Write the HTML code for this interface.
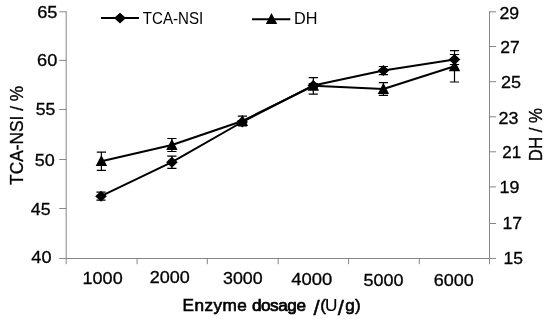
<!DOCTYPE html>
<html><head><meta charset="utf-8"><title>chart</title>
<style>html,body{margin:0;padding:0;background:#fff;overflow:hidden}svg{display:block}text{font-family:"Liberation Sans",Arial,sans-serif;fill:#000}</style>
</head><body>
<svg width="550" height="320" viewBox="0 0 550 320">
<rect width="550" height="320" fill="#fff"/>
<g stroke="#868686" fill="none">
<line x1="66.2" y1="11.3" x2="66.2" y2="264.2" stroke-width="1"/>
<line x1="489.5" y1="11.3" x2="489.5" y2="264.2" stroke-width="1"/>
<line x1="65.60000000000001" y1="258.5" x2="490.0" y2="258.5" stroke-width="1"/>
<line x1="59.3" y1="11.8" x2="66.2" y2="11.8" stroke-width="1"/>
<line x1="59.3" y1="60.4" x2="66.2" y2="60.4" stroke-width="1"/>
<line x1="59.3" y1="109.5" x2="66.2" y2="109.5" stroke-width="1"/>
<line x1="59.3" y1="159.5" x2="66.2" y2="159.5" stroke-width="1"/>
<line x1="59.3" y1="208.5" x2="66.2" y2="208.5" stroke-width="1"/>
<line x1="59.3" y1="258.5" x2="66.2" y2="258.5" stroke-width="1"/>
<line x1="489.5" y1="11.8" x2="496.1" y2="11.8" stroke-width="1"/>
<line x1="489.5" y1="46.5" x2="496.1" y2="46.5" stroke-width="1"/>
<line x1="489.5" y1="81.7" x2="496.1" y2="81.7" stroke-width="1"/>
<line x1="489.5" y1="116.8" x2="496.1" y2="116.8" stroke-width="1"/>
<line x1="489.5" y1="151.8" x2="496.1" y2="151.8" stroke-width="1"/>
<line x1="489.5" y1="186.9" x2="496.1" y2="186.9" stroke-width="1"/>
<line x1="489.5" y1="223.5" x2="496.1" y2="223.5" stroke-width="1"/>
<line x1="489.5" y1="258.4" x2="496.1" y2="258.4" stroke-width="1"/>
<line x1="137.1" y1="258.5" x2="137.1" y2="264.2" stroke-width="1"/>
<line x1="207.3" y1="258.5" x2="207.3" y2="264.2" stroke-width="1"/>
<line x1="278.2" y1="258.5" x2="278.2" y2="264.2" stroke-width="1"/>
<line x1="348.6" y1="258.5" x2="348.6" y2="264.2" stroke-width="1"/>
<line x1="419.3" y1="258.5" x2="419.3" y2="264.2" stroke-width="1"/>
</g>
<polyline fill="none" stroke="#000" stroke-width="2.0" stroke-linejoin="round" points="101,196.2 171.9,162.2 242.2,122.0 313.3,85.5 383.4,70.6 454.5,59.5"/>
<path d="M101,192.2V200.2M96.4,192.2H105.6M96.4,200.2H105.6" stroke="#000" stroke-width="1.2" fill="none"/>
<path d="M171.9,156.1V168.29999999999998M167.3,156.1H176.5M167.3,168.29999999999998H176.5" stroke="#000" stroke-width="1.2" fill="none"/>
<path d="M242.2,120.5V123.5M237.6,120.5H246.79999999999998M237.6,123.5H246.79999999999998" stroke="#000" stroke-width="1.2" fill="none"/>
<path d="M313.3,83.5V87.5M308.7,83.5H317.90000000000003M308.7,87.5H317.90000000000003" stroke="#000" stroke-width="1.2" fill="none"/>
<path d="M383.4,66.5V74.69999999999999M378.79999999999995,66.5H388.0M378.79999999999995,74.69999999999999H388.0" stroke="#000" stroke-width="1.2" fill="none"/>
<path d="M454.5,54.5V64.5M449.9,54.5H459.1M449.9,64.5H459.1" stroke="#000" stroke-width="1.2" fill="none"/>
<path d="M95.2,196.2L101,190.7L106.8,196.2L101,201.7Z" fill="#000"/>
<path d="M166.1,162.2L171.9,156.7L177.70000000000002,162.2L171.9,167.7Z" fill="#000"/>
<path d="M236.39999999999998,122.0L242.2,116.5L248.0,122.0L242.2,127.5Z" fill="#000"/>
<path d="M307.5,85.5L313.3,80.0L319.1,85.5L313.3,91.0Z" fill="#000"/>
<path d="M377.59999999999997,70.6L383.4,65.1L389.2,70.6L383.4,76.1Z" fill="#000"/>
<path d="M448.7,59.5L454.5,54.0L460.3,59.5L454.5,65.0Z" fill="#000"/>
<polyline fill="none" stroke="#000" stroke-width="2.0" stroke-linejoin="round" points="101.4,161.2 171.9,145.0 242.4,121.0 313.3,85.8 383.4,89.0 454.5,66.3"/>
<path d="M101.4,152.1V170.29999999999998M96.80000000000001,152.1H106.0M96.80000000000001,170.29999999999998H106.0" stroke="#000" stroke-width="1.2" fill="none"/>
<path d="M171.9,138.5V151.5M167.3,138.5H176.5M167.3,151.5H176.5" stroke="#000" stroke-width="1.2" fill="none"/>
<path d="M242.4,116.2V125.8M237.8,116.2H247.0M237.8,125.8H247.0" stroke="#000" stroke-width="1.2" fill="none"/>
<path d="M313.3,77.55V94.05M308.7,77.55H317.90000000000003M308.7,94.05H317.90000000000003" stroke="#000" stroke-width="1.2" fill="none"/>
<path d="M383.4,82.6V95.4M378.79999999999995,82.6H388.0M378.79999999999995,95.4H388.0" stroke="#000" stroke-width="1.2" fill="none"/>
<path d="M454.5,50.599999999999994V82.0M449.9,50.599999999999994H459.1M449.9,82.0H459.1" stroke="#000" stroke-width="1.2" fill="none"/>
<path d="M101.4,154.90L107.10,166.10H95.70Z" fill="#000"/>
<path d="M171.9,138.70L177.60,149.90H166.20Z" fill="#000"/>
<path d="M242.4,114.70L248.10,125.90H236.70Z" fill="#000"/>
<path d="M313.3,79.50L319.00,90.70H307.60Z" fill="#000"/>
<path d="M383.4,82.70L389.10,93.90H377.70Z" fill="#000"/>
<path d="M454.5,60.00L460.20,71.20H448.80Z" fill="#000"/>
<line x1="101" y1="18.1" x2="139" y2="18.1" stroke="#000" stroke-width="2.0"/>
<path d="M114.0,18.1L120.0,12.700000000000001L126.0,18.1L120.0,23.5Z" fill="#000"/>
<line x1="252" y1="19.2" x2="290.3" y2="19.2" stroke="#000" stroke-width="2.0"/>
<path d="M271.5,13.0L277.2,24.1H265.8Z" fill="#000"/>
<text transform="matrix(1.0790 0 0 1.0000 37.14 17.96)" font-size="16.9" stroke="#000" stroke-width="0.3">65</text>
<text transform="matrix(1.0764 0 0 1.0000 37.04 66.06)" font-size="16.9" stroke="#000" stroke-width="0.3">60</text>
<text transform="matrix(1.0456 0 0 1.0000 35.64 115.17)" font-size="16.9" stroke="#000" stroke-width="0.3">55</text>
<text transform="matrix(1.0659 0 0 1.0000 34.63 165.81)" font-size="16.9" stroke="#000" stroke-width="0.3">50</text>
<text transform="matrix(1.0507 0 0 1.0000 30.85 214.82)" font-size="16.9" stroke="#000" stroke-width="0.3">45</text>
<text transform="matrix(1.0707 0 0 1.0000 31.34 263.46)" font-size="16.9" stroke="#000" stroke-width="0.3">40</text>
<text transform="matrix(1.0435 0 0 1.0000 499.47 19.16)" font-size="16.9" stroke="#000" stroke-width="0.3">29</text>
<text transform="matrix(1.0370 0 0 1.0000 500.37 53.39)" font-size="16.9" stroke="#000" stroke-width="0.3">27</text>
<text transform="matrix(1.0674 0 0 1.0000 500.95 88.36)" font-size="16.9" stroke="#000" stroke-width="0.3">25</text>
<text transform="matrix(1.0584 0 0 1.0000 498.46 123.51)" font-size="16.9" stroke="#000" stroke-width="0.3">23</text>
<text transform="matrix(1.0052 0 0 1.0000 502.30 158.24)" font-size="16.9" stroke="#000" stroke-width="0.3">21</text>
<text transform="matrix(1.0579 0 0 1.0000 499.51 192.96)" font-size="16.9" stroke="#000" stroke-width="0.3">19</text>
<text transform="matrix(1.0453 0 0 1.0000 502.43 228.86)" font-size="16.9" stroke="#000" stroke-width="0.3">17</text>
<text transform="matrix(1.0348 0 0 1.0000 503.44 263.77)" font-size="16.9" stroke="#000" stroke-width="0.3">15</text>
<text transform="matrix(1.0656 0 0 1.0000 82.60 283.66)" font-size="16.9" stroke="#000" stroke-width="0.3">1000</text>
<text transform="matrix(1.0670 0 0 1.0000 149.75 282.51)" font-size="16.9" stroke="#000" stroke-width="0.3">2000</text>
<text transform="matrix(1.0553 0 0 1.0000 222.98 284.21)" font-size="16.9" stroke="#000" stroke-width="0.3">3000</text>
<text transform="matrix(1.0918 0 0 1.0000 291.33 285.36)" font-size="16.9" stroke="#000" stroke-width="0.3">4000</text>
<text transform="matrix(1.0648 0 0 1.0000 363.53 286.11)" font-size="16.9" stroke="#000" stroke-width="0.3">5000</text>
<text transform="matrix(1.0643 0 0 1.0000 433.65 286.16)" font-size="16.9" stroke="#000" stroke-width="0.3">6000</text>
<text transform="matrix(1.06 0 0 1 0 311.3)" font-size="16.2" stroke="#000"><tspan x="172.30" stroke-width="0.6" letter-spacing="0.388">Enzyme</tspan> <tspan x="237.66" stroke-width="0.7" letter-spacing="-0.427">dosage</tspan> <tspan x="295.77" stroke-width="0.45" font-size="21.0" dy="3.79">/</tspan><tspan x="302.15" stroke-width="0.5" dy="-3.79">(</tspan><tspan x="306.62" stroke-width="0.15">U</tspan><tspan x="318.60" stroke-width="0.45" font-size="21.0" dy="3.79">/</tspan><tspan x="325.77" stroke-width="0.6" dy="-3.79">g</tspan><tspan x="335.02" stroke-width="0.5">)</tspan></text>
<text transform="matrix(0.9503 0 0 1.0000 142.81 23.90)" font-size="15.9" fill="#222">TCA-NSI</text>
<text transform="matrix(1.0220 0 0 1.0000 293.91 24.10)" font-size="15.9" fill="#222">DH</text>
<text transform="matrix(0 -1 1.0220 0 23.12 184.89)" font-size="17.31" stroke="#000" stroke-width="0.3">TCA-NSI / %</text>
<text transform="matrix(0 -1 1.0669 0 542.42 161.19)" font-size="16.83" stroke="#000" stroke-width="0.3">DH / %</text>
</svg>
</body></html>
